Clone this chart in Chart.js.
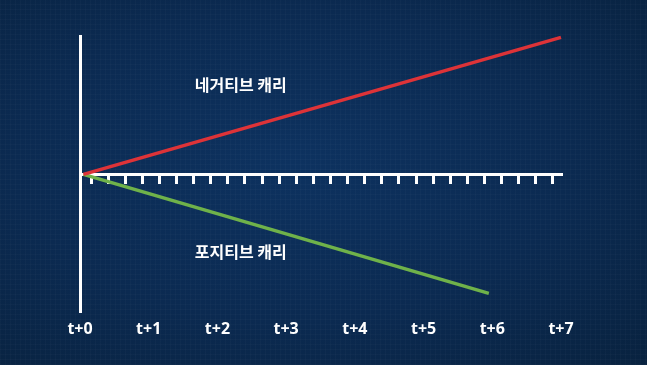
<!DOCTYPE html>
<html>
<head>
<meta charset="utf-8">
<script src="https://cdn.jsdelivr.net/npm/chart.js@4.4.1/dist/chart.umd.min.js"></script>
<style>
  html, body { margin: 0; padding: 0; }
  body {
    width: 647px; height: 365px; overflow: hidden;
    background:
      repeating-linear-gradient(0deg, rgba(255,255,255,0.018) 0 1px, transparent 1px 5px),
      repeating-linear-gradient(90deg, rgba(255,255,255,0.018) 0 1px, transparent 1px 5px),
      radial-gradient(ellipse at 45% 45%, #0d3260 0%, #0b2a51 55%, #08223f 100%);
  }
  canvas { display: block; }
</style>
</head>
<body>
<canvas id="carryChart" width="647" height="365"></canvas>
<script>
// 시간축 라벨
const timeLabels = ['t+0', 't+1', 't+2', 't+3', 't+4', 't+5', 't+6', 't+7'];

// 네거티브 캐리 (빨강) / 포지티브 캐리 (초록)
const negativeX = [0.05, 7];
const negativeY = [0, 0.99];
const positiveX = [0.05, 5.95];
const positiveY = [0, -0.86];

// 선 옆의 설명 글자
const noteTexts = ['네거티브 캐리', '포지티브 캐리'];
const noteX = [2.34, 2.34];
const noteY = [0.645, -0.558];

// 가로축 눈금 (작은 눈금 단위)
const minorTickMin = -0.643;
const minorTickMax = 27.47;

const toPoints = (xs, ys) => xs.map((x, i) => ({ x, y: ys[i] }));

// 글자 그리기 플러그인
const notesPlugin = {
  id: 'notes',
  afterDatasetsDraw(chart) {
    const { ctx, scales } = chart;
    ctx.save();
    ctx.fillStyle = '#ffffff';
    ctx.font = 'bold 16px "Noto Sans CJK KR", "Noto Sans", sans-serif';
    ctx.textAlign = 'center';
    ctx.textBaseline = 'middle';
    noteTexts.forEach((t, i) => {
      ctx.fillText(t, scales.x.getPixelForValue(noteX[i]), scales.y.getPixelForValue(noteY[i]));
    });
    ctx.restore();
  }
};

new Chart(document.getElementById('carryChart'), {
  type: 'scatter',
  data: {
    datasets: [
      {
        label: '네거티브 캐리',
        data: toPoints(negativeX, negativeY),
        showLine: true,
        borderColor: '#dd3338',
        borderWidth: 3.5,
        pointRadius: 0,
        clip: false
      },
      {
        label: '포지티브 캐리',
        data: toPoints(positiveX, positiveY),
        showLine: true,
        borderColor: '#6fb24a',
        borderWidth: 3.5,
        pointRadius: 0,
        clip: false
      }
    ]
  },
  options: {
    responsive: false,
    animation: false,
    layout: { padding: { left: 80, right: 86, top: 36, bottom: 19 } },
    scales: {
      x: {
        type: 'linear',
        min: 0,
        max: 7,
        position: 'bottom',
        border: { display: false },
        grid: { display: false, drawTicks: false },
        ticks: {
          stepSize: 1,
          padding: 7,
          color: '#ffffff',
          font: { family: '"Noto Sans", sans-serif', size: 16, weight: 'bold' },
          callback: v => timeLabels[v]
        }
      },
      x2: {
        type: 'linear',
        axis: 'x',
        min: minorTickMin,
        max: minorTickMax,
        position: { y: 0 },
        border: { display: true, color: '#ffffff', width: 3 },
        grid: { drawOnChartArea: false, drawTicks: true, tickLength: 8, color: '#ffffff', lineWidth: 3 },
        ticks: { display: false, stepSize: 1, includeBounds: false },
        afterBuildTicks: s => { s.ticks = s.ticks.filter(t => t.value >= s.min && t.value <= s.max); }
      },
      y: {
        type: 'linear',
        min: -1,
        max: 1,
        position: 'left',
        border: { display: true, color: '#ffffff', width: 3 },
        grid: { display: false, drawTicks: false },
        ticks: { display: false }
      }
    },
    plugins: {
      legend: { display: false },
      tooltip: { enabled: false }
    }
  },
  plugins: [notesPlugin]
});
</script>
</body>
</html>
